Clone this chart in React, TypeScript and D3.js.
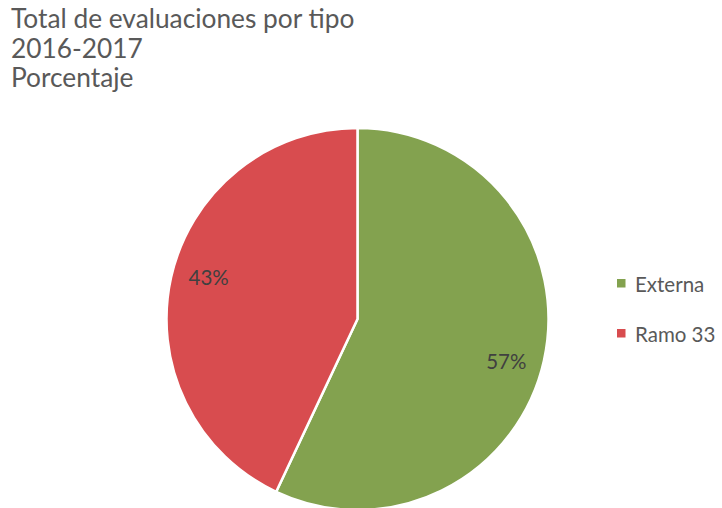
import React from "react";
import * as d3 from "d3";

// datos del gráfico
const categories = ["Externa", "Ramo 33"];
const values = [57, 43];
const colors = ["#83A24F", "#D84C4F"];
const titleLines = ["Total de evaluaciones por tipo", "2016-2017", "Porcentaje"];

const width = 722;
const height = 508;
const cx = 357.5;
const cy = 319;
const radius = 191;

const App = () => {
  const pie = d3.pie<number>().sort(null).value((d) => d);
  const arcs = pie(values);
  const arc = d3.arc<d3.PieArcDatum<number>>().innerRadius(0).outerRadius(radius);
  const total = d3.sum(values);
  // posición de etiquetas (Excel las pone un poco girados)
  const labelR = radius * 0.81;
  const labelPos = (a: d3.PieArcDatum<number>) => {
    const ang = (a.startAngle + a.endAngle) / 2 + 0.056;
    return [labelR * Math.sin(ang), -labelR * Math.cos(ang)];
  };

  return (
    <svg
      width={width}
      height={height}
      style={{ position: "absolute", left: 0, top: 0, background: "#fff" }}
      fontFamily="Lato, sans-serif"
    >
      {titleLines.map((t, i) => (
        <text key={t} x={11} y={28 + i * 29.5} fontSize={26.3} fill="#595959">
          {t}
        </text>
      ))}

      <g transform={`translate(${cx},${cy})`}>
        {arcs.map((a, i) => (
          <path key={i} d={arc(a) || ""} fill={colors[i]} stroke="#fff" strokeWidth={2.5} />
        ))}
        {arcs.map((a, i) => {
          const [x, y] = labelPos(a);
          return (
            <text
              key={"l" + i}
              x={x}
              y={y}
              textAnchor="middle"
              dominantBaseline="central"
              fontSize={20.5}
              fill="#404040"
            >
              {Math.round((a.value / total) * 100)}%
            </text>
          );
        })}
      </g>

      {categories.map((c, i) => (
        <g key={c} transform={`translate(617,${279 + i * 50})`}>
          <rect width={8.5} height={8.5} fill={colors[i]} />
          <text x={18} y={12.5} fontSize={20.5} fill="#595959">
            {c}
          </text>
        </g>
      ))}
    </svg>
  );
};

export default App;
